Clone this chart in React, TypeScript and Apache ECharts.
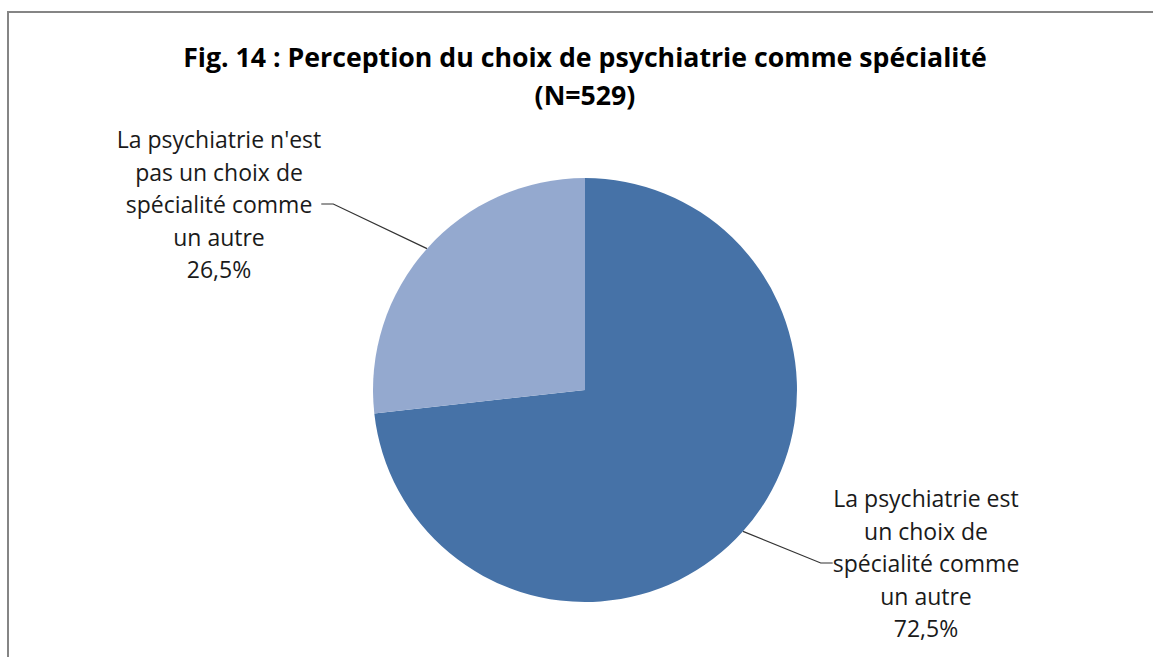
import React, { useEffect, useRef } from "react";
import * as echarts from "echarts";

const titleText = "Fig. 14 : Perception du choix de psychiatrie comme spécialité\n(N=529)";
const categories = [
  "La psychiatrie est\nun choix de\nspécialité comme\nun autre",
  "La psychiatrie n'est\npas un choix de\nspécialité comme\nun autre",
];
const values = [72.5, 26.5];
const colors = ["#4672A7", "#94A9CF"];

export default function App() {
  const ref = useRef<HTMLDivElement>(null);
  useEffect(() => {
    if (!ref.current) return;
    const chart = echarts.init(ref.current, null, { renderer: "svg" });
    const data = categories.map((name, i) => ({
      name,
      value: values[i],
      itemStyle: { color: colors[i] },
    }));
    chart.setOption({
      animation: false,
      backgroundColor: "transparent",
      title: {
        text: titleText,
        left: 585,
        textAlign: "center",
        top: 37,
        padding: 0,
        textStyle: {
          fontFamily: "Open Sans",
          fontWeight: "bold",
          fontSize: 26.7,
          color: "#000000",
          lineHeight: 38,
          align: "center",
        },
      },
      series: [
        {
          type: "pie",
          center: [585, 390],
          radius: 212,
          startAngle: 90,
          clockwise: true,
          data,
          label: {
            show: true,
            position: "outside",
            formatter: (p: any) => p.name + "\n" + String(p.value).replace(".", ",") + "%",
            fontFamily: "Open Sans",
            fontSize: 23,
            lineHeight: 32.5,
            color: "#1a1a1a",
            align: "center",
          },
          labelLine: {
            show: true,
            length: 20,
            length2: 12,
            lineStyle: { color: "#333333", width: 1.2 },
          },
          labelLayout: (params: any) =>
            params.dataIndex === 0
              ? { x: 926, y: 563, align: "center", verticalAlign: "middle" }
              : { x: 219, y: 204, align: "center", verticalAlign: "middle" },
          emphasis: { disabled: true },
        },
      ],
    });
    return () => chart.dispose();
  }, []);
  return (
    <div style={{ position: "fixed", left: 0, top: 0, width: 1153, height: 657, background: "#ffffff", overflow: "hidden" }}>
      <div
        style={{
          position: "absolute",
          left: 7,
          top: 11,
          width: 1200,
          height: 700,
          borderLeft: "2px solid #858585",
          borderTop: "2px solid #858585",
        }}
      />
      <div
        ref={ref}
        style={{ position: "absolute", left: 0, top: 0, width: 1153, height: 657 }}
      />
    </div>
  );
}
